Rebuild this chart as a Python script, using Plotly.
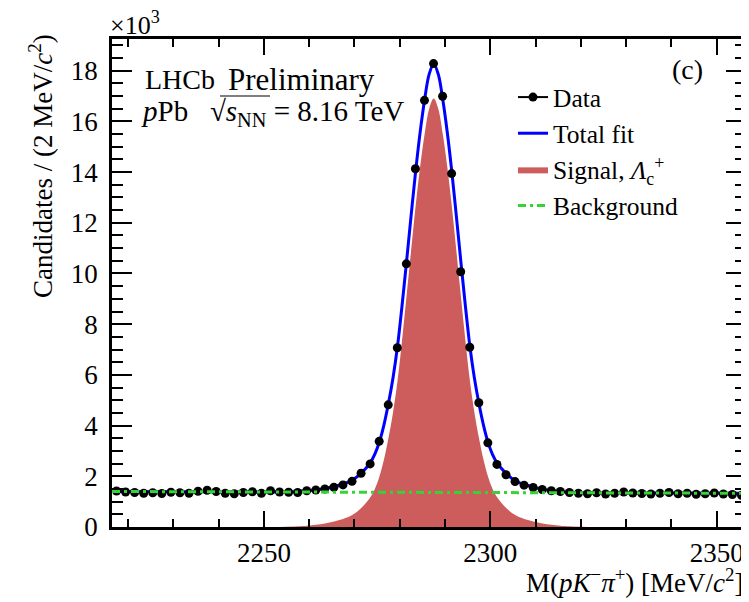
import plotly.graph_objects as go

# ---------------- data ----------------
bin_centers = [2217.46 + 2 * k for k in range(70)]
data_counts = [
    1420, 1380, 1360, 1330, 1350, 1320, 1370, 1350, 1330, 1410,
    1450, 1400, 1330, 1310, 1360, 1390, 1330, 1430, 1380, 1370,
    1360, 1430, 1460, 1500, 1570, 1660, 1800, 2120, 2490, 3380,
    4820, 7070, 10380, 14130, 16830, 18280, 16990, 13940, 10070, 7090,
    4900, 3320, 2470, 2060, 1790, 1650, 1560, 1480, 1430, 1400,
    1360, 1330, 1310, 1350, 1300, 1330, 1380, 1340, 1320, 1300,
    1330, 1360, 1310, 1330, 1290, 1310, 1340, 1300, 1280, 1250,
]

signal_x = [
    2253.5, 2257.5, 2259.5, 2261.5, 2263.5, 2265.5, 2267.5, 2269.5, 2271.5,
    2273.5, 2274.5, 2275.5, 2276.5, 2277.5, 2278.5, 2279.5, 2280.5, 2281.5,
    2282.5, 2283.5, 2284.5, 2285.5, 2286.5, 2287.5, 2288.5, 2289.5, 2290.5,
    2291.5, 2292.5, 2293.5, 2294.5, 2295.5, 2296.5, 2297.5, 2298.5, 2299.5,
    2300.5, 2301.5, 2303.5, 2305.5, 2307.5, 2309.5, 2311.5, 2313.5, 2315.5,
    2317.5, 2321.5,
]
signal_y = [
    0, 25, 50, 85, 140, 220, 320, 470, 750,
    1170, 1500, 1980, 2650, 3500, 4500, 5750, 7350, 9100,
    10900, 12650, 14200, 15500, 16500, 16900, 16500, 15500, 14200,
    12650, 10900, 9100, 7350, 5750, 4500, 3500, 2650, 1980,
    1500, 1170, 750, 470, 320, 220, 140, 85, 50,
    25, 0,
]

total_x = [
    2216.46, 2235.0, 2253.5, 2257.5, 2259.5, 2261.5, 2263.5, 2265.5, 2267.5,
    2269.5, 2271.5, 2273.5, 2274.5, 2275.5, 2276.5, 2277.5, 2278.5, 2279.5,
    2280.5, 2281.5, 2282.5, 2283.5, 2284.5, 2285.5, 2286.5, 2287.5, 2288.5,
    2289.5, 2290.5, 2291.5, 2292.5, 2293.5, 2294.5, 2295.5, 2296.5, 2297.5,
    2298.5, 2299.5, 2300.5, 2301.5, 2303.5, 2305.5, 2307.5, 2309.5, 2311.5,
    2313.5, 2315.5, 2317.5, 2321.5, 2340.0, 2356.46,
]
total_y = [
    1400, 1391, 1382, 1405, 1429, 1463, 1517, 1596, 1695,
    1844, 2123, 2542, 2872, 3351, 4021, 4870, 5870, 7119,
    8719, 10468, 12268, 14017, 15567, 16866, 17866, 18265, 17865,
    16864, 15564, 14013, 12263, 10462, 8712, 7111, 5861, 4860,
    4010, 3339, 2859, 2528, 2107, 1826, 1675, 1574, 1493,
    1437, 1401, 1375, 1348, 1338, 1330,
]

bkg_x = [2216.46, 2356.46]
bkg_y = [1400, 1330]

y_tick_vals = [0, 2000, 4000, 6000, 8000, 10000, 12000, 14000, 16000, 18000]
y_tick_text = ["0", "2", "4", "6", "8", "10", "12", "14", "16", "18"]
x_tick_vals = [2250, 2300, 2350]

# ---------------- layout helpers ----------------
OFF = 8                      # page body margin in the browser
W, H = 749 - OFF, 602 - OFF  # figure size so that it fills the window
# plot area in screen pixels: x 112..746, y 39..527
SL, SR, ST, SB = 112, 746, 39, 527
L, T = SL - OFF, ST - OFF
R, B = W - (SR - OFF), H - (SB - OFF)
PW, PH = SR - SL, SB - ST
FONT = "Liberation Serif"
GREEN = "#36d336"
RED = "#CD5C5C"
BLUE = "#0000ff"


def px(xs):
    """screen x pixel -> paper coordinate"""
    return (xs - SL) / PW


def py(ys):
    """screen y pixel -> paper coordinate"""
    return (SB - ys) / PH


fig = go.Figure()

fig.add_trace(go.Scatter(
    x=signal_x, y=signal_y, mode="lines", line=dict(width=0, shape="spline", color=RED),
    fill="tozeroy", fillcolor=RED, showlegend=False,
))
fig.add_trace(go.Scatter(
    x=total_x, y=total_y, mode="lines", line=dict(color=BLUE, width=3, shape="spline"),
    showlegend=False,
))
fig.add_trace(go.Scatter(
    x=bin_centers, y=data_counts, mode="markers",
    marker=dict(color="black", size=9), showlegend=False,
))
fig.add_trace(go.Scatter(
    x=bkg_x, y=bkg_y, mode="lines",
    line=dict(color=GREEN, width=3, dash="8px,4px,3px,4px"), showlegend=False,
))

# legend entries
fig.add_trace(go.Scatter(x=[None], y=[None], mode="lines+markers", name="Data",
                         line=dict(color="black", width=2), marker=dict(color="black", size=9)))
fig.add_trace(go.Scatter(x=[None], y=[None], mode="lines", name="Total fit",
                         line=dict(color=BLUE, width=3)))
fig.add_trace(go.Scatter(x=[None], y=[None], mode="lines", name="Signal, <i>Λ</i><sub>c</sub><sup>+</sup>",
                         line=dict(width=0, color=RED), fill="tozeroy", fillcolor=RED))
fig.add_trace(go.Scatter(x=[None], y=[None], mode="lines", name="Background",
                         line=dict(color=GREEN, width=3, dash="8px,4px,3px,4px")))

axis_common = dict(
    showline=True, linecolor="black", linewidth=2.5, mirror="ticks",
    ticks="inside", tickcolor="black", tickwidth=2, showgrid=False, zeroline=False,
    tickfont=dict(family=FONT, size=27, color="black"),
)

fig.update_xaxes(
    range=[2216.46, 2356.46], tickmode="array", tickvals=x_tick_vals, ticklen=16,
    minor=dict(ticks="inside", ticklen=8, dtick=10, tick0=2250, tickcolor="black", tickwidth=2),
    ticklabelstandoff=0,
    **axis_common,
)
fig.update_yaxes(
    range=[0, 19250], tickmode="array", tickvals=y_tick_vals, ticktext=y_tick_text, ticklen=20,
    minor=dict(ticks="inside", ticklen=11, dtick=500, tick0=0, tickcolor="black", tickwidth=2),
    ticklabelstandoff=6,
    **axis_common,
)

annotations = [
    dict(x=px(108), y=py(24), text="×10<sup>3</sup>", xanchor="left", yanchor="middle",
         font=dict(family=FONT, size=26, color="black")),
    dict(x=px(41), y=py(166), text="Candidates / (2 MeV/<i>c</i><sup>2</sup>)", textangle=-90,
         xanchor="center", yanchor="middle", font=dict(family=FONT, size=27, color="black")),
    dict(x=px(746), y=py(581), text="M(<i>pK</i><sup>−</sup><i>π</i><sup>+</sup>) [MeV/<i>c</i><sup>2</sup>]",
         xanchor="right", yanchor="middle", font=dict(family=FONT, size=27, color="black")),
    dict(x=px(143), y=py(80), text="LHCb", xanchor="left", yanchor="middle",
         font=dict(family=FONT, size=28, color="black")),
    dict(x=px(226), y=py(79), text="Preliminary", xanchor="left", yanchor="middle",
         font=dict(family=FONT, size=31, color="black")),
    dict(x=px(139), y=py(113), text="<i>p</i>Pb   √<i>s</i><sub>NN</sub> = 8.16 TeV", xanchor="left",
         yanchor="middle", font=dict(family=FONT, size=29, color="black")),
    dict(x=px(705), y=py(70), text="(c)", xanchor="right", yanchor="middle",
         font=dict(family=FONT, size=28, color="black")),
]
for a in annotations:
    a.update(xref="paper", yref="paper", showarrow=False)

fig.update_layout(
    width=W, height=H,
    margin=dict(l=L, r=R, t=T, b=B, autoexpand=False),
    paper_bgcolor="white", plot_bgcolor="white",
    showlegend=True,
    legend=dict(x=px(513), y=py(74), xanchor="left", yanchor="top",
                font=dict(family=FONT, size=25.5, color="black"),
                bgcolor="rgba(0,0,0,0)", borderwidth=0, itemwidth=30, tracegroupgap=0),
    annotations=annotations,
    shapes=[dict(type="line", xref="paper", yref="paper", x0=px(220), x1=px(270),
                 y0=py(96), y1=py(96), line=dict(color="black", width=1.2))],
)

fig.write_html("out.html")
